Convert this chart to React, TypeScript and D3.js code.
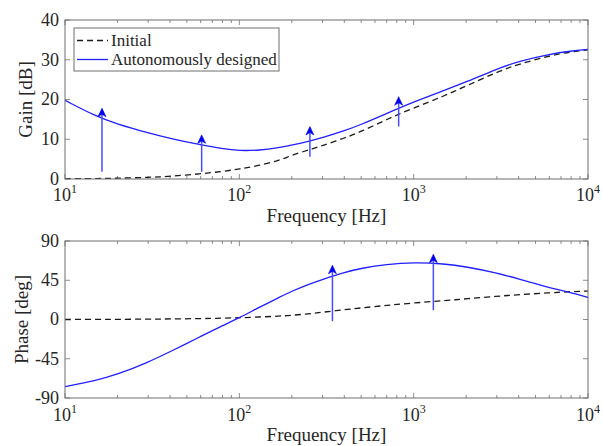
import React, { useRef, useEffect } from "react";
import * as d3 from "d3";

// frequency grid [Hz]
const freqs = [10, 15, 20, 30, 40, 60, 80, 100, 130, 170, 200, 250, 300, 400, 500, 700, 1000, 1500, 2000, 3000, 4000, 6000, 8000, 10000];

// gain [dB]
const gainInitial = [0.05, 0.1, 0.2, 0.4, 0.65, 1.3, 1.9, 2.5, 3.4, 4.7, 6.0, 7.3, 8.4, 10.3, 11.9, 15.0, 17.9, 20.9, 23.4, 26.9, 28.9, 31.0, 32.0, 32.5];
const gainDesigned = [19.8, 15.8, 13.8, 11.6, 10.2, 8.6, 7.6, 7.1, 7.2, 7.9, 8.5, 9.5, 10.4, 12.1, 13.7, 16.5, 19.4, 22.3, 24.4, 27.7, 29.6, 31.4, 32.2, 32.6];

// phase [deg]
const phaseInitial = [0, 0.1, 0.2, 0.4, 0.6, 1.0, 1.5, 2.0, 2.8, 3.9, 4.8, 6.5, 8.3, 11.3, 13.3, 16.2, 19.0, 21.6, 23.7, 26.6, 28.5, 30.6, 32.0, 32.6];
const phaseDesigned = [-77, -70, -63, -49, -37, -19.5, -7, 1.8, 14, 25.5, 32.5, 40.5, 46, 54, 58.8, 63.3, 65.4, 64, 60.5, 53.5, 46.5, 36.5, 31, 25.2];

// design arrows: frequency, start value, end value
const gainArrowFreq = [16.3, 60.8, 254, 820];
const gainArrowFrom = [1.8, 1.8, 5.6, 13.2];
const gainArrowTo = [17.8, 11.1, 13.2, 20.7];
const phaseArrowFreq = [342, 1297];
const phaseArrowFrom = [-1.9, 10.7];
const phaseArrowTo = [62.2, 74.8];

const decadeTicks = [10, 100, 1000, 10000];
const gainTicks = [0, 10, 20, 30, 40];
const phaseTicks = [-90, -45, 0, 45, 90];
const legendLabels = ["Initial", "Autonomously designed"];

const FONT = "'Liberation Serif', 'Times New Roman', serif";
const BLUE = "#1f1fff";
const AXIS = "#6e6e6e";
const TEXT = "#262626";

function App() {
  const svgRef = useRef<SVGSVGElement>(null);

  useEffect(() => {
    const svg = d3.select(svgRef.current);
    svg.selectAll("*").remove();

    const left = 65;
    const right = 588;
    const x = d3.scaleLog().domain([10, 10000]).range([left, right]);

    const minorTicks: number[] = [];
    [10, 100, 1000].forEach((d) => {
      for (let k = 2; k <= 9; k++) minorTicks.push(d * k);
    });

    const panels = [
      {
        id: "gain", top: 20, bottom: 179, domain: [0, 40], ticks: gainTicks, label: "Gain [dB]",
        initial: gainInitial, designed: gainDesigned,
        arrowFreq: gainArrowFreq, arrowFrom: gainArrowFrom, arrowTo: gainArrowTo,
        xTickY: 201, xLabelY: 222, yLabelX: 32,
      },
      {
        id: "phase", top: 241, bottom: 398, domain: [-90, 90], ticks: phaseTicks, label: "Phase [deg]",
        initial: phaseInitial, designed: phaseDesigned,
        arrowFreq: phaseArrowFreq, arrowFrom: phaseArrowFrom, arrowTo: phaseArrowTo,
        xTickY: 421, xLabelY: 441, yLabelX: 28,
      },
    ];

    panels.forEach((p) => {
      const y = d3.scaleLinear().domain(p.domain).range([p.bottom, p.top]);
      const g = svg.append("g");

      g.append("clipPath")
        .attr("id", `clip-${p.id}`)
        .append("rect")
        .attr("x", left)
        .attr("y", p.top)
        .attr("width", right - left)
        .attr("height", p.bottom - p.top);

      // ticks inside the box, all four sides
      const tickG = g.append("g").attr("stroke", AXIS).attr("stroke-width", 0.8);
      decadeTicks.forEach((d) => {
        tickG.append("line").attr("x1", x(d)).attr("x2", x(d)).attr("y1", p.bottom).attr("y2", p.bottom - 5);
        tickG.append("line").attr("x1", x(d)).attr("x2", x(d)).attr("y1", p.top).attr("y2", p.top + 5);
      });
      minorTicks.forEach((d) => {
        tickG.append("line").attr("x1", x(d)).attr("x2", x(d)).attr("y1", p.bottom).attr("y2", p.bottom - 3);
        tickG.append("line").attr("x1", x(d)).attr("x2", x(d)).attr("y1", p.top).attr("y2", p.top + 3);
      });
      p.ticks.forEach((t) => {
        tickG.append("line").attr("x1", left).attr("x2", left + 5).attr("y1", y(t)).attr("y2", y(t));
        tickG.append("line").attr("x1", right).attr("x2", right - 5).attr("y1", y(t)).attr("y2", y(t));
      });

      // curves
      const line = d3
        .line<number>()
        .x((_, i) => x(freqs[i]))
        .y((d) => y(d))
        .curve(d3.curveBasis);

      const plot = g.append("g").attr("clip-path", `url(#clip-${p.id})`);
      plot.append("path")
        .attr("d", line(p.initial))
        .attr("fill", "none")
        .attr("stroke", "#1a1a1a")
        .attr("stroke-width", 1.3)
        .attr("stroke-dasharray", "6,4");
      plot.append("path")
        .attr("d", line(p.designed))
        .attr("fill", "none")
        .attr("stroke", BLUE)
        .attr("stroke-width", 1.3);

      // arrows
      p.arrowFreq.forEach((f, i) => {
        const ax = x(f);
        const y0 = y(p.arrowFrom[i]);
        const y1 = y(p.arrowTo[i]);
        g.append("line")
          .attr("x1", ax).attr("x2", ax)
          .attr("y1", y0).attr("y2", y1 + 5)
          .attr("stroke", "#4a4aff")
          .attr("stroke-width", 1.5);
        g.append("path")
          .attr("d", `M${ax},${y1} L${ax - 4},${y1 + 8.5} L${ax},${y1 + 6} L${ax + 4},${y1 + 8.5} Z`)
          .attr("fill", "#0000ee")
          .attr("stroke", "#0000ee")
          .attr("stroke-width", 0.6);
      });

      // box
      g.append("rect")
        .attr("x", left)
        .attr("y", p.top)
        .attr("width", right - left)
        .attr("height", p.bottom - p.top)
        .attr("fill", "none")
        .attr("stroke", AXIS)
        .attr("stroke-width", 1);

      // tick labels
      p.ticks.forEach((t) => {
        g.append("text")
          .attr("x", left - 6)
          .attr("y", y(t))
          .attr("dy", "0.33em")
          .attr("text-anchor", "end")
          .attr("font-family", FONT)
          .attr("font-size", 18)
          .attr("fill", TEXT)
          .text(t);
      });
      decadeTicks.forEach((d) => {
        const txt = g.append("text")
          .attr("x", x(d))
          .attr("y", p.xTickY)
          .attr("text-anchor", "middle")
          .attr("font-family", FONT)
          .attr("font-size", 18)
          .attr("fill", TEXT);
        txt.append("tspan").text("10");
        txt.append("tspan")
          .attr("font-size", 12)
          .attr("dy", -8)
          .text(Math.round(Math.log10(d)));
      });

      // axis labels
      g.append("text")
        .attr("x", (left + right) / 2)
        .attr("y", p.xLabelY)
        .attr("text-anchor", "middle")
        .attr("font-family", FONT)
        .attr("font-size", 19)
        .attr("fill", TEXT)
        .text("Frequency [Hz]");
      g.append("text")
        .attr("transform", `translate(${p.yLabelX},${(p.top + p.bottom) / 2}) rotate(-90)`)
        .attr("text-anchor", "middle")
        .attr("font-family", FONT)
        .attr("font-size", 19)
        .attr("fill", TEXT)
        .text(p.label);
    });

    // legend
    const leg = svg.append("g");
    leg.append("rect")
      .attr("x", 74).attr("y", 28)
      .attr("width", 205).attr("height", 43)
      .attr("fill", "#fff")
      .attr("stroke", AXIS)
      .attr("stroke-width", 1);
    legendLabels.forEach((label, i) => {
      const ly = 40.5 + i * 19;
      leg.append("line")
        .attr("x1", 77).attr("x2", 108)
        .attr("y1", ly).attr("y2", ly)
        .attr("stroke", i === 0 ? "#1a1a1a" : BLUE)
        .attr("stroke-width", 1.3)
        .attr("stroke-dasharray", i === 0 ? "6,4" : null);
      leg.append("text")
        .attr("x", 111)
        .attr("y", ly + 5.5)
        .attr("font-family", FONT)
        .attr("font-size", 17)
        .attr("fill", TEXT)
        .text(label);
    });
  }, []);

  return (
    <svg
      ref={svgRef}
      width={603}
      height={446}
      style={{ position: "absolute", left: 0, top: 0, background: "#fff" }}
    />
  );
}

export default App;
